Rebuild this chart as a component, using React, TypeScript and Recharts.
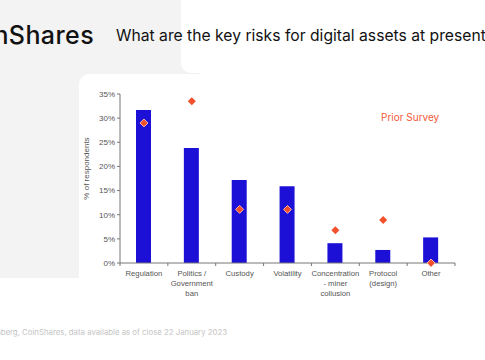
import React from 'react';
import { ComposedChart, Bar, Line, XAxis, YAxis } from 'recharts';

const categories = [
  'Regulation',
  'Politics / Government ban',
  'Custody',
  'Volatility',
  'Concentration - miner collusion',
  'Protocol (design)',
  'Other',
];
const tickLines = [
  ['Regulation'],
  ['Politics /', 'Government', 'ban'],
  ['Custody'],
  ['Volatility'],
  ['Concentration', '- miner', 'collusion'],
  ['Protocol', '(design)'],
  ['Other'],
];
const currentSurvey = [31.7, 23.8, 17.2, 15.9, 4.1, 2.7, 5.3];
const priorSurvey = [29.0, 33.5, 11.1, 11.1, 6.8, 8.9, 0];
const yTicks = [0, 5, 10, 15, 20, 25, 30, 35];

const data = categories.map((name, i) => ({
  name,
  current: currentSurvey[i],
  prior: priorSurvey[i],
}));

const W = 485;
const H = 360;
const margin = { top: 94, right: 30, left: 80, bottom: 57 };
const Y_AXIS_W = 40;
const plotWidth = W - margin.left - margin.right - Y_AXIS_W;
const band = plotWidth / categories.length;
const tickFont = "'Liberation Sans', Arial, sans-serif";

const Diamond = (props: any) => {
  const { cx, cy, payload } = props;
  if (cx == null || cy == null) return null;
  const onBar = payload && payload.current > payload.prior;
  const r = 4;
  return (
    <path
      d={`M${cx},${cy - r} L${cx + r},${cy} L${cx},${cy + r} L${cx - r},${cy} Z`}
      fill="#f2502d"
      stroke={onBar ? '#f7b6a6' : 'none'}
      strokeWidth={1}
    />
  );
};

const CategoryTick = (props: any) => {
  const { x, y, payload, index } = props;
  const half = payload && payload.offset ? payload.offset : band / 2;
  const lines = tickLines[index] || [payload.value];
  return (
    <g>
      <line x1={x - half} y1={y - 8} x2={x - half} y2={y - 5} stroke="#777" strokeWidth={1} />
      {index === categories.length - 1 && (
        <line x1={x + half} y1={y - 8} x2={x + half} y2={y - 5} stroke="#777" strokeWidth={1} />
      )}
      <text x={x} y={y + 5} textAnchor="middle" fontSize={7.7} fill="#555" fontFamily={tickFont}>
        {lines.map((l: string, i: number) => (
          <tspan key={i} x={x} dy={i === 0 ? 0 : 10}>
            {l}
          </tspan>
        ))}
      </text>
    </g>
  );
};

export default function App() {
  return (
    <div
      style={{
        position: 'absolute',
        left: 0,
        top: 0,
        width: W,
        height: H,
        overflow: 'hidden',
        background: '#ffffff',
        fontFamily: 'Inter, sans-serif',
      }}
    >
      {/* grey backdrop panels */}
      <div style={{ position: 'absolute', left: 0, top: 0, width: 200, height: 278, background: '#f3f3f3', borderBottomRightRadius: 10 }} />
      <div style={{ position: 'absolute', left: 181, top: 0, width: 320, height: 73, background: '#ffffff', borderBottomLeftRadius: 10 }} />
      <div style={{ position: 'absolute', left: 79, top: 74, width: 420, height: 300, background: '#ffffff', borderTopLeftRadius: 10 }} />

      <div
        style={{
          position: 'absolute',
          right: W - 94,
          top: 20,
          fontSize: 25,
          fontWeight: 500,
          color: '#111',
          whiteSpace: 'nowrap',
          letterSpacing: 0.4,
        }}
      >
        CoinShares
      </div>
      <div
        style={{
          position: 'absolute',
          left: 116,
          top: 26,
          fontSize: 15.7,
          color: '#111',
          whiteSpace: 'nowrap',
        }}
      >
        What are the key risks for digital assets at present?
      </div>

      <div style={{ position: 'absolute', left: 0, top: 0 }}>
        <ComposedChart width={W} height={H} data={data} margin={margin}>
          <XAxis
            dataKey="name"
            interval={0}
            tick={<CategoryTick />}
            tickLine={false}
            axisLine={{ stroke: '#777' }}
            height={40}
          />
          <YAxis
            width={Y_AXIS_W}
            domain={[0, 35]}
            ticks={yTicks}
            tickFormatter={(v: number) => `${v}%`}
            tick={{ fontSize: 8, fill: '#555', fontFamily: tickFont }}
            tickLine={{ stroke: '#777' }}
            tickSize={3}
            axisLine={{ stroke: '#777' }}
            label={{
              value: '% of respondents',
              angle: -90,
              position: 'insideLeft',
              offset: 6,
              dy: -10,
              style: { fontSize: 8, fill: '#555', fontFamily: tickFont, textAnchor: 'middle' },
            }}
          />
          <Bar dataKey="current" fill="#1c10d6" barSize={15} isAnimationActive={false} />
          <Line
            dataKey="prior"
            stroke="none"
            strokeWidth={0}
            dot={<Diamond />}
            activeDot={false}
            isAnimationActive={false}
          />
        </ComposedChart>
      </div>

      <div style={{ position: 'absolute', left: 381, top: 111, fontSize: 10, color: '#f2593a' }}>Prior Survey</div>

      <div
        style={{
          position: 'absolute',
          right: W - 227,
          top: 327,
          fontSize: 7.8,
          color: '#c4c4c4',
          whiteSpace: 'nowrap',
        }}
      >
        Source: Bloomberg, CoinShares, data available as of close 22 January 2023
      </div>
    </div>
  );
}
